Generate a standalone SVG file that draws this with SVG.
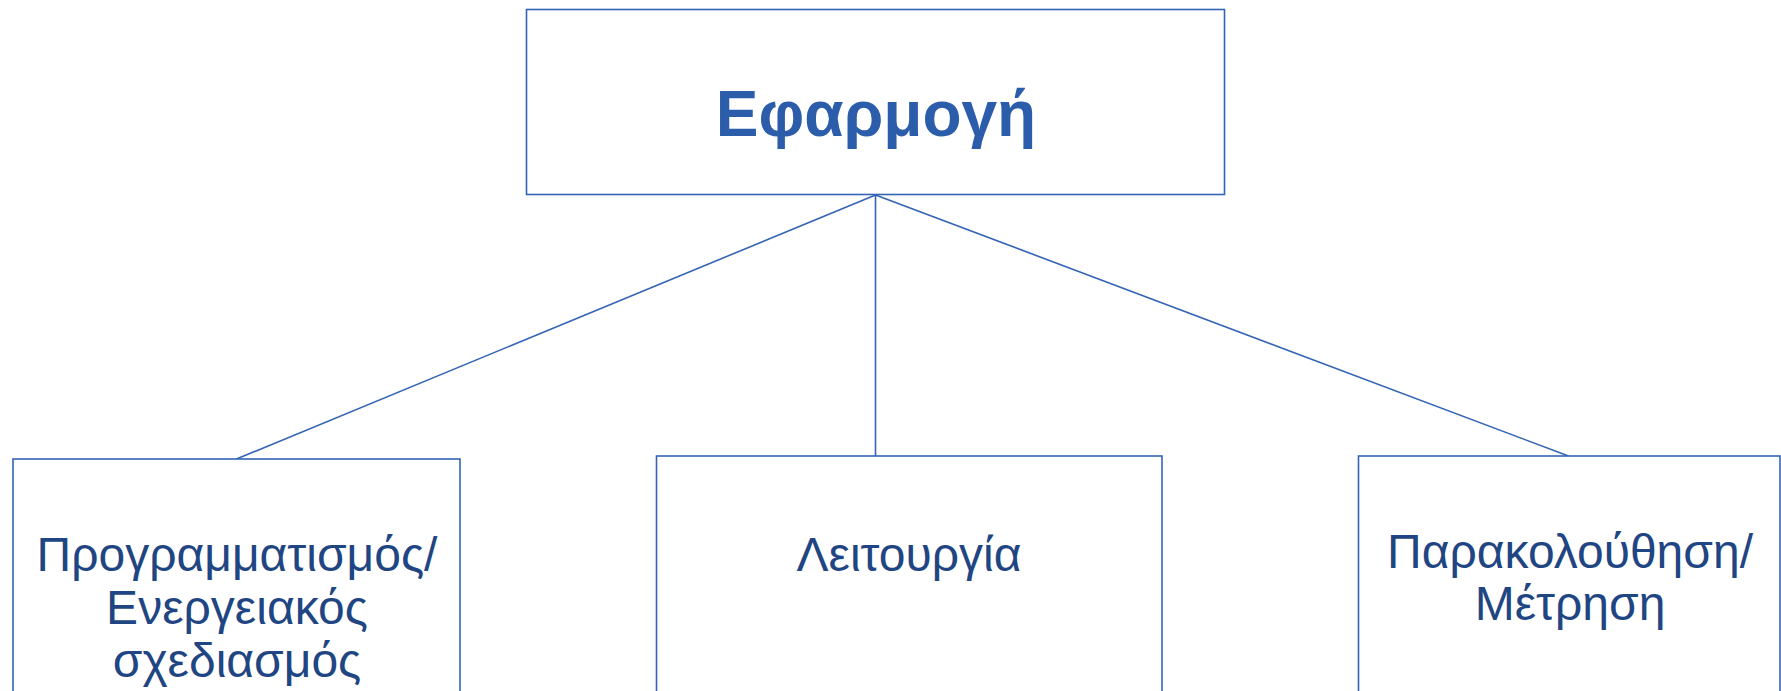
<svg xmlns="http://www.w3.org/2000/svg" width="1781" height="691" viewBox="0 0 1781 691">
<style>
.box{fill:#ffffff;stroke:#3464B4;stroke-width:1.6}
.conn{stroke:#3464B4;stroke-width:1.6;fill:none}
.t{font-family:"Liberation Sans",Arial,sans-serif;font-size:48px;fill:#1F4682;text-anchor:middle}
.title{font-family:"Liberation Sans",Arial,sans-serif;font-size:64px;font-weight:bold;fill:#2C5DAB;text-anchor:middle}
</style>
<rect width="1781" height="691" fill="#ffffff"/>
<g id="connectors">
<line class="conn" x1="875.5" y1="195" x2="236.5" y2="459"/>
<line class="conn" x1="875.5" y1="195" x2="875.5" y2="456"/>
<line class="conn" x1="875.5" y1="195" x2="1568.5" y2="456"/>
</g>
<g id="node-top">
<rect class="box" x="526.5" y="9.5" width="698" height="185"/>
<text class="title" x="876" y="136">Εφαρμογή</text>
</g>
<g id="node-left">
<rect class="box" x="13" y="459" width="447" height="260"/>
<text class="t" x="237" y="571">Προγραμματισμός/</text>
<text class="t" x="237" y="624">Ενεργειακός</text>
<text class="t" x="237" y="677">σχεδιασμός</text>
</g>
<g id="node-middle">
<rect class="box" x="656.5" y="456" width="505.5" height="260"/>
<text class="t" x="909" y="571">Λειτουργία</text>
</g>
<g id="node-right">
<rect class="box" x="1358.5" y="456" width="421.5" height="260"/>
<text class="t" x="1570" y="568">Παρακολούθηση/</text>
<text class="t" x="1570" y="620">Μέτρηση</text>
</g>
</svg>
